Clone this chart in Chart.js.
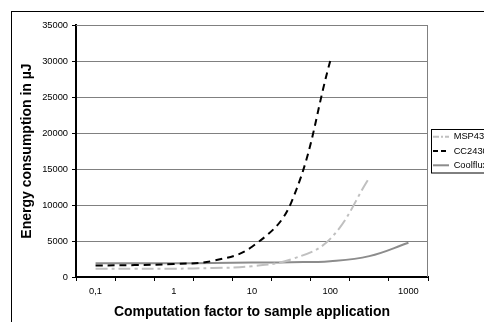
<!DOCTYPE html>
<html>
<head>
<meta charset="utf-8">
<script src="https://cdn.jsdelivr.net/npm/chart.js@4/dist/chart.umd.min.js"></script>
<style>
  html, body { margin: 0; padding: 0; background: #fff; overflow: hidden; }
  #wrap { position: absolute; left: 0; top: 0; width: 488px; height: 340px; }
</style>
</head>
<body>
<div id="wrap"><canvas id="energyChart" width="488" height="340"></canvas></div>
<script>
// categories on the x axis (computation factor), only every other one is labelled
const factors = ['0,1', '0,3', '1', '3', '10', '30', '100', '300', '1000'];

// energy consumption in µJ
const msp430 = [1150, 1150, 1150, 1250, 1500, 2450, 5300, 13800, null];
const cc2430 = [1600, 1650, 1800, 2250, 4200, 10300, 30000, null, null];
const coolflux = [1900, 1900, 1900, 1950, 2000, 2050, 2200, 2900, 4750];

const yTicks = { min: 0, max: 35000, step: 5000 };

// shorter dash patterns for the small legend samples
const legendDash = [[6, 2, 2, 2], [5, 3], []];

Chart.defaults.font.family = 'Arial, "Liberation Sans", sans-serif';
Chart.defaults.color = '#000';

// white background and the outer chart frame (only top/left visible)
const framePlugin = {
    id: 'frame',
    beforeDraw(chart) {
        const ctx = chart.ctx;
        ctx.save();
        ctx.fillStyle = '#fff';
        ctx.fillRect(0, 0, chart.width, chart.height);
        ctx.strokeStyle = '#000';
        ctx.lineWidth = 1;
        ctx.strokeRect(11.5, 11.5, chart.width + 20, chart.height + 20);
        ctx.restore();
    },
    beforeDatasetsDraw(chart) {
        // plot area border on the top and right side
        const a = chart.chartArea;
        const ctx = chart.ctx;
        ctx.save();
        ctx.strokeStyle = '#808080';
        ctx.lineWidth = 1;
        ctx.beginPath();
        ctx.moveTo(a.left, a.top + 0.5);
        ctx.lineTo(a.right - 0.5, a.top + 0.5);
        ctx.lineTo(a.right - 0.5, a.bottom);
        ctx.stroke();
        ctx.restore();
    },
    afterDraw(chart) {
        // box around the legend entries
        const boxes = chart.legend.legendHitBoxes;
        if (!boxes || !boxes.length) return;
        const first = boxes[0];
        const last = boxes[boxes.length - 1];
        const ctx = chart.ctx;
        ctx.save();
        ctx.strokeStyle = '#000';
        ctx.lineWidth = 1;
        const x = Math.round(first.left) - 1.5;
        const y = Math.round(first.top) - 2.5;
        const h = Math.round(last.top + last.height) + 3 - y;
        ctx.strokeRect(x, y, 200, h);
        ctx.restore();
    }
};

const ctx = document.getElementById('energyChart').getContext('2d');
const energyChart = new Chart(ctx, {
    type: 'line',
    data: {
        labels: factors,
        datasets: [
            {
                label: 'MSP430',
                data: msp430,
                borderColor: '#c0c0c0',
                borderWidth: 2,
                borderDash: [12, 4, 3, 4],
                pointRadius: 0,
                tension: 0.4,
                fill: false
            },
            {
                label: 'CC2430',
                data: cc2430,
                borderColor: '#000',
                borderWidth: 2,
                borderDash: [7, 5],
                pointRadius: 0,
                tension: 0.4,
                fill: false
            },
            {
                label: 'Coolflux',
                data: coolflux,
                borderColor: '#8c8c8c',
                borderWidth: 2,
                pointRadius: 0,
                tension: 0.4,
                fill: false
            }
        ]
    },
    options: {
        responsive: false,
        animation: false,
        layout: { padding: { top: 25, left: 0, right: 0, bottom: 18 } },
        plugins: {
            tooltip: { enabled: false },
            legend: {
                position: 'right',
                align: 'center',
                fullSize: false,
                maxWidth: 60,
                labels: {
                    usePointStyle: true,
                    pointStyle: 'line',
                    pointStyleWidth: 16,
                    padding: 5,
                    color: '#000',
                    font: { size: 9.3 },
                    generateLabels(chart) {
                        const items = Chart.defaults.plugins.legend.labels.generateLabels(chart);
                        items.forEach((item, i) => {
                            item.lineDash = legendDash[i];
                            item.pointStyle = 'line';
                        });
                        return items;
                    }
                }
            }
        },
        scales: {
            x: {
                type: 'category',
                offset: true,
                afterFit(scale) { scale.height = 45; },
                grid: {
                    offset: true,
                    drawOnChartArea: false,
                    drawTicks: true,
                    tickLength: 4,
                    tickColor: '#000',
                    tickWidth: 1
                },
                border: { color: '#000', width: 2 },
                ticks: {
                    autoSkip: false,
                    maxRotation: 0,
                    padding: 5,
                    font: { size: 9.3 },
                    color: '#000',
                    callback: function(value, index) {
                        return index % 2 === 0 ? this.getLabelForValue(value) : '';
                    }
                },
                title: {
                    display: true,
                    text: 'Computation factor to sample application',
                    font: { size: 14, weight: 'bold' },
                    color: '#000',
                    padding: { top: 0, bottom: 1.6 }
                }
            },
            y: {
                min: yTicks.min,
                max: yTicks.max,
                afterFit(scale) { scale.width = 76; },
                grid: {
                    color: '#808080',
                    lineWidth: 1,
                    drawTicks: true,
                    tickLength: 4,
                    tickColor: '#000'
                },
                border: { color: '#000', width: 2 },
                ticks: {
                    stepSize: yTicks.step,
                    padding: 4,
                    font: { size: 9.3 },
                    color: '#000',
                    callback: v => String(v)
                },
                title: {
                    display: true,
                    text: 'Energy consumption in µJ',
                    font: { size: 14, weight: 'bold' },
                    color: '#000',
                    padding: { top: 18.6, bottom: 0 }
                }
            }
        }
    },
    plugins: [framePlugin]
});
</script>
</body>
</html>
